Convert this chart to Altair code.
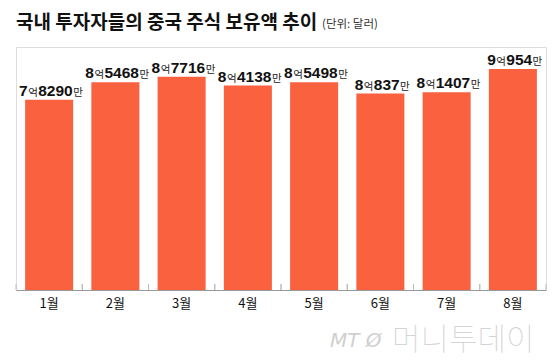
import altair as alt
import pandas as pd

months = ["1월", "2월", "3월", "4월", "5월", "6월", "7월", "8월"]
eok = [7, 8, 8, 8, 8, 8, 8, 9]
man = [8290, 5468, 7716, 4138, 5498, 837, 1407, 954]

title_text = "국내 투자자들의 중국 주식 보유액 추이"
unit_text = "(단위: 달러)"

df = pd.DataFrame({
    "month": months,
    "eok": [str(e) for e in eok],
    "man": [str(m) for m in man],
    "value": [e + m / 10000 for e, m in zip(eok, man)],
    "len": [len(str(m)) for m in man],
})

W, H = 530, 243
P_IN = 0.275
BAR = "#F9613F"
KFONT = "Noto Sans CJK KR"
DFONT = "Liberation Sans"

step = W / len(months)
gap = step * P_IN

X = alt.X("month:N", sort=months,
          scale=alt.Scale(paddingInner=P_IN, paddingOuter=P_IN / 2),
          axis=alt.Axis(title=None, labelAngle=0, labelFont=KFONT, labelFontSize=13,
                        labelColor="#111", labelPadding=7, ticks=False,
                        domainColor="#999", domainWidth=1, grid=False))
Y = alt.Y("value:Q", scale=alt.Scale(domain=[0, 10]), axis=None)

base = alt.Chart(df)
bars = base.mark_bar(color=BAR).encode(x=X, y=Y)

ticks_l = base.mark_rule(color="#bbb", xOffset=-gap / 2).encode(
    x=alt.X("month:N", sort=months, bandPosition=0),
    y=alt.value(H - 6), y2=alt.value(H))
ticks_r = base.mark_rule(color="#bbb", xOffset=gap / 2).encode(
    x=alt.X("month:N", sort=months, bandPosition=1),
    y=alt.value(H - 6), y2=alt.value(H))

DSIZE = 15.5
WD = 0.556 * DSIZE
KSIZE = 10.5
WK = 10.5
layers = []
for L in sorted(set(df["len"])):
    tot = WD * (1 + L) + 2 * WK
    s = -tot / 2 + 2
    g = base.transform_filter(alt.datum.len == L)
    common = dict(align="left", baseline="alphabetic", dy=-4)
    layers.append(g.mark_text(dx=s, font=DFONT, fontSize=DSIZE, fontWeight="bold",
                              color="#111", **common).encode(x=X, y=Y, text="eok:N"))
    layers.append(g.mark_text(dx=s + WD + 0.5, font=KFONT, fontSize=KSIZE, color="#222",
                              **common).encode(x=X, y=Y, text=alt.value("억")))
    layers.append(g.mark_text(dx=s + WD + WK, font=DFONT, fontSize=DSIZE, fontWeight="bold",
                              color="#111", **common).encode(x=X, y=Y, text="man:N"))
    layers.append(g.mark_text(dx=s + WD * (1 + L) + WK + 0.5, font=KFONT, fontSize=KSIZE,
                              color="#222", **common).encode(x=X, y=Y, text=alt.value("만")))

one = alt.Chart(pd.DataFrame({"t": [title_text], "u": [unit_text]}))
title = one.mark_text(align="left", baseline="alphabetic", font=KFONT, fontSize=19,
                      fontWeight="bold", color="#111").encode(
    x=alt.value(0), y=alt.value(-18), text="t:N")
unit = one.mark_text(align="left", baseline="alphabetic", font=KFONT, fontSize=11.5,
                     color="#333").encode(
    x=alt.value(306), y=alt.value(-19), text="u:N")

wm = alt.Chart(pd.DataFrame({"a": ["MT Ø"], "b": ["머니투데이"]}))
wm1 = wm.mark_text(align="left", baseline="alphabetic", font="DejaVu Sans", fontSize=20,
                   fontStyle="italic", fontWeight=300, color="#d0d0d0").encode(
    x=alt.value(314), y=alt.value(300), text="a:N")
wm2 = wm.mark_text(align="left", baseline="alphabetic", font=KFONT, fontSize=31,
                   fontWeight=100, color="#d4d4d4").encode(
    x=alt.value(376), y=alt.value(303), text="b:N")

chart = alt.layer(bars, ticks_l, ticks_r, *layers, title, unit, wm1, wm2).properties(
    width=W, height=H,
    autosize=alt.AutoSizeParams(type="none"),
    padding={"left": 8, "top": 39, "right": 6, "bottom": 70},
).configure_view(stroke=None).configure(background="white")

chart.save("out.html", embed_options={"renderer": "svg", "actions": False})
